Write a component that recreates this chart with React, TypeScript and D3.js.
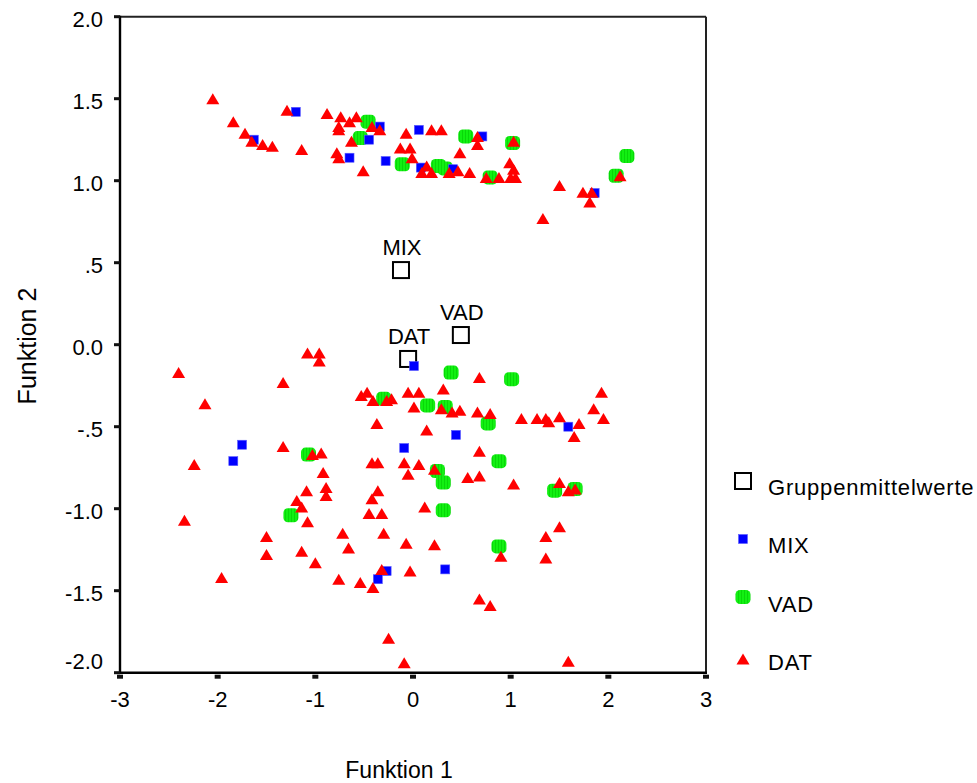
import React from 'react';
import * as d3 from 'd3';

const xTicks = [-3, -2, -1, 0, 1, 2, 3];
const xTickLabels = ['-3', '-2', '-1', '0', '1', '2', '3'];
const yTicks = [2.0, 1.5, 1.0, 0.5, 0.0, -0.5, -1.0, -1.5, -2.0];
const yTickLabels = ['2.0', '1.5', '1.0', '.5', '0.0', '-.5', '-1.0', '-1.5', '-2.0'];

const groupNames = ['MIX', 'VAD', 'DAT'];
const groupMeanX = [-0.123, 0.49, -0.05];
const groupMeanY = [0.455, 0.059, -0.087];

const legendLabels = ['Gruppenmittelwerte', 'MIX', 'VAD', 'DAT'];

const mixPoints: [number, number][] = [
  [-1.2, 1.42], [-1.63, 1.25], [-0.34, 1.33], [-0.45, 1.25], [0.06, 1.31], [-0.65, 1.14],
  [-0.28, 1.12], [0.08, 1.08], [0.71, 1.27], [0.41, 1.07], [1.86, 0.925],
  [0.01, -0.13], [-1.75, -0.61], [-1.84, -0.71], [-0.09, -0.63], [0.44, -0.55], [1.59, -0.5],
  [-0.27, -1.38], [-0.36, -1.43], [0.33, -1.37],
];

const vadPoints: [number, number][] = [
  [-0.46, 1.36], [-0.54, 1.26], [-0.11, 1.1], [0.26, 1.09], [0.33, 1.075], [0.54, 1.27],
  [1.02, 1.23], [0.79, 1.02], [2.19, 1.15], [2.08, 1.03],
  [-0.3, -0.33], [0.15, -0.37], [0.33, -0.38], [0.39, -0.17], [1.01, -0.21], [0.77, -0.48],
  [0.88, -0.71], [0.25, -0.77], [0.31, -0.84], [0.31, -1.01], [1.45, -0.89], [1.66, -0.88],
  [0.88, -1.23], [-1.07, -0.67], [-1.25, -1.04],
];

const datPoints: [number, number][] = [
  [-2.05, 1.5], [-1.29, 1.43], [-1.84, 1.36], [-1.72, 1.29], [-1.65, 1.24], [-1.54, 1.22],
  [-1.44, 1.21], [-1.14, 1.19], [-0.88, 1.41], [-0.74, 1.39], [-0.58, 1.39], [-0.65, 1.36],
  [-0.76, 1.33], [-0.76, 1.31], [-0.42, 1.33], [-0.34, 1.31], [-0.63, 1.24], [-0.07, 1.29],
  [-0.78, 1.17], [-0.76, 1.14], [-0.13, 1.2], [-0.03, 1.2], [-0.01, 1.14], [-0.51, 1.06],
  [0.19, 1.31], [0.29, 1.31], [0.66, 1.27], [0.66, 1.22], [1.03, 1.24], [0.48, 1.17],
  [0.14, 1.09], [0.09, 1.05], [0.19, 1.05], [0.37, 1.05], [0.46, 1.06], [0.58, 1.05],
  [0.75, 1.02], [0.88, 1.02], [0.99, 1.11], [1.03, 1.07], [1.0, 1.02], [1.05, 1.02],
  [1.5, 0.97], [1.74, 0.93], [1.83, 0.93], [1.81, 0.87], [1.33, 0.77], [2.12, 1.03],
  [-1.08, -0.05], [-0.96, -0.05], [-0.96, -0.1], [-2.4, -0.17], [-1.33, -0.23], [-2.13, -0.36],
  [-0.53, -0.31], [-0.47, -0.29], [-0.41, -0.34], [-0.27, -0.34], [-0.22, -0.33], [-0.05, -0.29],
  [0.06, -0.29], [0.01, -0.38], [-0.37, -0.48], [0.14, -0.52], [-1.33, -0.62], [-1.03, -0.67],
  [-0.94, -0.66], [-2.24, -0.73], [-0.42, -0.72], [-0.36, -0.72], [-0.09, -0.72], [0.06, -0.73],
  [-0.05, -0.79], [-0.92, -0.78], [-0.89, -0.87], [-0.89, -0.92], [-1.09, -0.89], [-1.19, -0.95],
  [-0.36, -0.89], [-0.42, -0.94], [-1.14, -0.99], [-0.45, -1.03], [-0.32, -1.03], [0.12, -0.99],
  [-2.34, -1.07], [0.68, -0.2], [0.31, -0.27], [1.93, -0.29], [0.29, -0.39], [0.4, -0.41],
  [0.48, -0.4], [0.66, -0.41], [0.79, -0.42], [1.11, -0.45], [1.27, -0.45], [1.36, -0.45],
  [1.39, -0.47], [1.5, -0.44], [1.85, -0.39], [1.95, -0.45], [1.7, -0.48], [1.65, -0.56],
  [0.68, -0.65], [0.22, -0.76], [0.56, -0.81], [0.68, -0.8], [1.03, -0.85], [1.5, -0.84],
  [1.59, -0.89], [1.66, -0.88], [1.5, -1.11], [1.36, -1.17], [0.9, -1.29], [1.36, -1.3],
  [0.68, -1.55], [0.79, -1.59], [1.59, -1.93], [-1.08, -1.08], [-1.5, -1.17], [-1.5, -1.28],
  [-0.72, -1.15], [-0.66, -1.24], [-0.3, -1.15], [-0.07, -1.21], [0.22, -1.22], [-1.14, -1.26],
  [-1.0, -1.33], [-1.96, -1.42], [-0.76, -1.43], [-0.54, -1.45], [-0.41, -1.48], [-0.32, -1.37],
  [-0.03, -1.38], [-0.25, -1.79], [-0.09, -1.94],
];

const FONT = '"Liberation Sans", Arial, Helvetica, sans-serif';
const RED = '#ff0000';
const BLUE = '#0000ff';
const GREEN = '#12f012';

const triPath = 'M0,-5.5L6.5,5.5L-6.5,5.5Z';

function Tri({ x, y }: { x: number; y: number }) {
  return <path d={triPath} transform={`translate(${x},${y})`} fill={RED} />;
}
function Sq({ x, y }: { x: number; y: number }) {
  return <rect x={x - 4.5} y={y - 4.5} width={9} height={9} fill={BLUE} stroke="#5a5aff" strokeWidth={0.6} />;
}
function Blob({ x, y }: { x: number; y: number }) {
  return <rect x={x - 7.5} y={y - 7} width={15} height={14} rx={4.5} ry={4.5} fill="url(#greenPat)" />;
}

export default function App() {
  const x = d3.scaleLinear().domain([-3, 3]).range([120, 706]);
  const y = d3.scaleLinear().domain([-2, 2]).range([672.7, 16.7]);

  return (
    <svg
      width={977}
      height={783}
      style={{ position: 'absolute', left: 0, top: 0, background: '#fff' }}
      fontFamily={FONT}
    >
      <defs>
        <pattern id="greenPat" width={3} height={3} patternUnits="userSpaceOnUse">
          <rect width={3} height={3} fill={GREEN} />
          <rect width={1} height={3} fill="#08d808" />
        </pattern>
      </defs>
      <rect width={977} height={783} fill="#fff" />

      {/* frame */}
      <line x1={x(-3)} x2={x(3)} y1={y(2)} y2={y(2)} stroke="#222" strokeWidth={2} />
      <line x1={x(3)} x2={x(3)} y1={y(2)} y2={y(-2)} stroke="#222" strokeWidth={2} />
      <line x1={x(-3)} x2={x(-3)} y1={y(2) - 1} y2={y(-2) + 1} stroke="#000" strokeWidth={2.4} />
      <line x1={x(-3) - 1} x2={x(3) + 1} y1={y(-2)} y2={y(-2)} stroke="#000" strokeWidth={2.4} />

      {/* y ticks */}
      {yTicks.map((t, i) => (
        <g key={'yt' + i}>
          <rect x={x(-3) - 6} y={y(t) - 1.5} width={6} height={3} fill="#111" />
          <text
            x={103}
            y={y(t) + (i === yTicks.length - 1 ? -4 : 10)}
            textAnchor="end"
            fontSize={22}
            fill="#000"
          >
            {yTickLabels[i]}
          </text>
        </g>
      ))}

      {/* x ticks */}
      {xTicks.map((t, i) => (
        <g key={'xt' + i}>
          <rect x={x(t) - 3} y={y(-2) + 2} width={6} height={4} fill="#111" />
          <text x={x(t)} y={707} textAnchor="middle" fontSize={22} fill="#000">
            {xTickLabels[i]}
          </text>
        </g>
      ))}

      {/* axis titles */}
      <text x={399} y={778} textAnchor="middle" fontSize={23}>Funktion 1</text>
      <text transform="translate(36,346) rotate(-90)" textAnchor="middle" fontSize={25}>Funktion 2</text>

      {/* group means */}
      {groupNames.map((g, i) => (
        <g key={'gm' + i}>
          <rect x={x(groupMeanX[i]) - 8} y={y(groupMeanY[i]) - 8} width={16} height={16} fill="none" stroke="#000" strokeWidth={2} />
          <text x={x(groupMeanX[i]) + 1} y={y(groupMeanY[i]) - 15} textAnchor="middle" fontSize={22}>
            {g}
          </text>
        </g>
      ))}

      {/* points */}
      {vadPoints.map((p, i) => <Blob key={'v' + i} x={x(p[0])} y={y(p[1])} />)}
      {mixPoints.map((p, i) => <Sq key={'m' + i} x={x(p[0])} y={y(p[1])} />)}
      {datPoints.map((p, i) => <Tri key={'d' + i} x={x(p[0])} y={y(p[1])} />)}

      {/* legend */}
      <g fontSize={22} letterSpacing={0.8}>
        <rect x={735} y={473} width={16} height={16} fill="none" stroke="#000" strokeWidth={2} />
        <text x={768} y={495}>{legendLabels[0]}</text>
        <Sq x={743} y={539} />
        <text x={768} y={553}>{legendLabels[1]}</text>
        <Blob x={743} y={597} />
        <text x={768} y={612}>{legendLabels[2]}</text>
        <Tri x={743} y={659} />
        <text x={768} y={670}>{legendLabels[3]}</text>
      </g>
    </svg>
  );
}
